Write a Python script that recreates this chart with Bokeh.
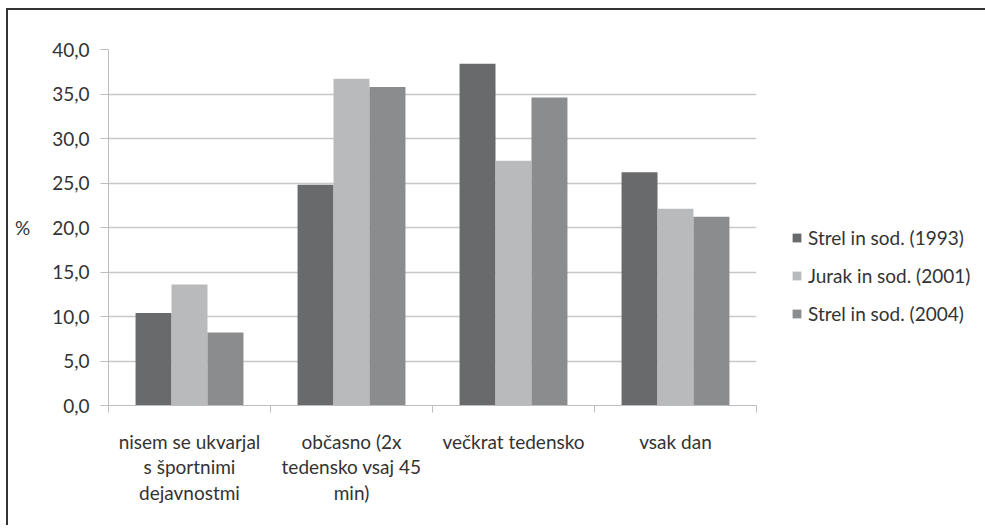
from bokeh.plotting import figure
from bokeh.models import (ColumnDataSource, FixedTicker, CustomJSTickFormatter, Legend,
                          LegendItem, Range1d)
from bokeh.transform import dodge
from bokeh.embed import file_html
from bokeh.resources import INLINE

categories = ["nisem se ukvarjal\ns športnimi\ndejavnostmi",
              "občasno (2x\ntedensko vsaj 45\nmin)",
              "večkrat tedensko",
              "vsak dan"]
series_names = ["Strel in sod. (1993)", "Jurak in sod. (2001)", "Strel in sod. (2004)"]
strel_1993 = [10.4, 24.8, 38.4, 26.2]
jurak_2001 = [13.6, 36.7, 27.5, 22.1]
strel_2004 = [8.2, 35.8, 34.6, 21.2]
y_ticks = [0, 5, 10, 15, 20, 25, 30, 35, 40]

colors = ["#696a6c", "#b9babc", "#8b8c8e"]
FONT = "Lato"
TXT = "#333333"

xpos = [i + 0.5 for i in range(len(categories))]
src = ColumnDataSource(dict(x=xpos, s1=strel_1993, s2=jurak_2001, s3=strel_2004))

p = figure(frame_width=648, frame_height=356, output_backend="svg", toolbar_location=None,
           x_range=Range1d(0, 4), y_range=Range1d(0, 40),
           min_border_left=100, min_border_top=39, min_border_bottom=120, min_border_right=226)
p.styles = {"border-top": "2px solid #333333", "border-left": "2px solid #333333",
            "margin-left": "6px", "margin-top": "8px"}
p.outline_line_color = None

w = 0.222
r1 = p.vbar(x=dodge("x", -w, range=p.x_range), top="s1", width=w, source=src,
            fill_color=colors[0], line_color=None)
r2 = p.vbar(x=dodge("x", 0, range=p.x_range), top="s2", width=w, source=src,
            fill_color=colors[1], line_color=None)
r3 = p.vbar(x=dodge("x", w, range=p.x_range), top="s3", width=w, source=src,
            fill_color=colors[2], line_color=None)

# x axis
p.xaxis.ticker = FixedTicker(ticks=xpos, minor_ticks=[0, 1, 2, 3, 4])
p.xaxis.major_label_overrides = {x: c for x, c in zip(xpos, categories)}
p.xaxis.major_tick_line_color = None
p.xaxis.major_tick_out = 0
p.xaxis.major_tick_in = 0
p.xaxis.minor_tick_out = 7
p.xaxis.minor_tick_in = 0
p.xaxis.minor_tick_line_color = "#bdbdbd"
p.xaxis.axis_line_color = "#bdbdbd"
p.xaxis.major_label_standoff = 17
p.xaxis.major_label_text_font = FONT
p.xaxis.major_label_text_font_size = "19px"
p.xaxis.major_label_text_color = TXT
p.xaxis.major_label_text_line_height = 1.13
p.xgrid.grid_line_color = None

# y axis
p.yaxis.ticker = FixedTicker(ticks=y_ticks)
p.yaxis.formatter = CustomJSTickFormatter(code="return tick.toFixed(1).replace('.', ',');")
p.yaxis.major_tick_out = 8
p.yaxis.major_tick_in = 0
p.yaxis.major_tick_line_color = "#bdbdbd"
p.yaxis.minor_tick_line_color = None
p.yaxis.axis_line_color = "#bdbdbd"
p.yaxis.major_label_standoff = 11
p.yaxis.major_label_text_font = FONT
p.yaxis.major_label_text_font_size = "19px"
p.yaxis.major_label_text_color = TXT
p.yaxis.axis_label = "%"
p.yaxis.axis_label_orientation = "horizontal"
p.yaxis.axis_label_standoff = 19
p.yaxis.axis_label_text_font = FONT
p.yaxis.axis_label_text_font_size = "19px"
p.yaxis.axis_label_text_font_style = "normal"
p.yaxis.axis_label_text_color = TXT
p.ygrid.grid_line_color = "#c8c8c8"
p.ygrid.grid_line_width = 1.5

legend = Legend(items=[LegendItem(label=series_names[0], renderers=[r1]),
                       LegendItem(label=series_names[1], renderers=[r2]),
                       LegendItem(label=series_names[2], renderers=[r3])],
                location=(35, 80), border_line_color=None, background_fill_alpha=0,
                padding=0, margin=0, spacing=15, glyph_width=11, glyph_height=11,
                label_standoff=6, label_text_font=FONT, label_text_font_size="19px",
                label_text_color=TXT)
p.add_layout(legend, "right")

open("out.html", "w").write(file_html(p, INLINE))
